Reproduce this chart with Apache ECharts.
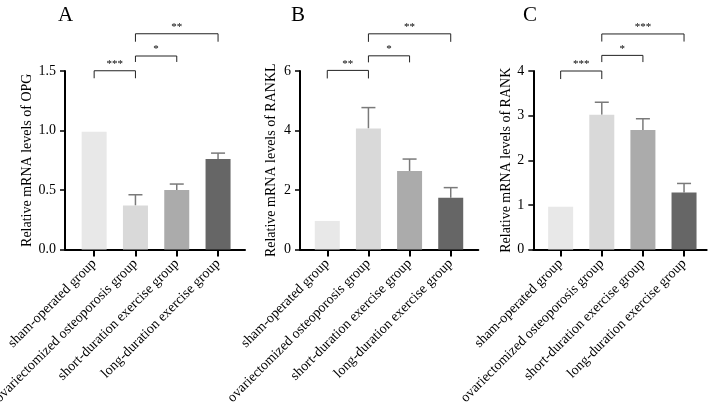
<!DOCTYPE html>
<html>
<head>
<meta charset="utf-8">
<script src="https://cdn.jsdelivr.net/npm/echarts@6/dist/echarts.min.js"></script>
<style>html,body{margin:0;padding:0;background:#fff}#c{width:713px;height:402px}</style>
</head>
<body>
<div id="c"></div>
<script>
var categories = ['sham-operated group', 'ovariectomized osteoporosis group', 'short-duration exercise group', 'long-duration exercise group'];
var barColors = ['#e8e8e8', '#d9d9d9', '#ababab', '#666666'];

var opgMean = [0.99, 0.37, 0.50, 0.76];
var opgErrTop = [null, 0.46, 0.55, 0.81];
var opgTicks = { min: 0, max: 1.5, interval: 0.5 };
var opgSig = [[0, 1, 1.502, 1.439, '***'], [1, 2, 1.626, 1.576, '*'], [1, 3, 1.813, 1.746, '**']];

var ranklMean = [0.96, 4.07, 2.64, 1.74];
var ranklErrTop = [null, 4.77, 3.04, 2.08];
var ranklTicks = { min: 0, max: 6, interval: 2 };
var ranklSig = [[0, 1, 6.02, 5.75, '**'], [1, 2, 6.51, 6.29, '*'], [1, 3, 7.25, 6.98, '**']];

var rankMean = [0.96, 3.02, 2.68, 1.28];
var rankErrTop = [null, 3.30, 2.93, 1.48];
var rankTicks = { min: 0, max: 4, interval: 1 };
var rankSig = [[0, 1, 4.0, 3.82, '***'], [1, 2, 4.35, 4.2, '*'], [1, 3, 4.83, 4.66, '***']];

var panelLetters = ['A', 'B', 'C'];
var yNames = ['Relative mRNA levels of OPG', 'Relative mRNA levels of RANKL', 'Relative mRNA levels of RANK'];

var FONT = '"Times New Roman", "Liberation Serif", serif';
var chart = echarts.init(document.getElementById('c'), null, { renderer: 'canvas' });

var panels = [
  { mean: opgMean, err: opgErrTop, ticks: opgTicks, sig: opgSig, dec: 1, outer: [65, 180], inner: [73.5, 165.2], nameGap: 31, letterX: 53 },
  { mean: ranklMean, err: ranklErrTop, ticks: ranklTicks, sig: ranklSig, dec: 0, outer: [300, 178.3], inner: [306.7, 164.6], nameGap: 22, letterX: 286 },
  { mean: rankMean, err: rankErrTop, ticks: rankTicks, sig: rankSig, dec: 0, outer: [533.3, 173.4], inner: [540.1, 164.5], nameGap: 20, letterX: 518 }
];

var grids = [], xAxes = [], yAxes = [], series = [], titles = [];
var TOP = 71, HEIGHT = 178.5;

panels.forEach(function (p, i) {
  var og = grids.length;
  grids.push({ left: p.outer[0], top: TOP, width: p.outer[1], height: HEIGHT, containLabel: false, outerBoundsMode: 'none' });
  grids.push({ left: p.inner[0], top: TOP, width: p.inner[1], height: HEIGHT, containLabel: false, outerBoundsMode: 'none' });
  xAxes.push({ type: 'category', gridIndex: og, data: categories, axisLine: { show: true, lineStyle: { color: '#000', width: 2 } }, axisTick: { show: false }, axisLabel: { show: false }, splitLine: { show: false } });
  yAxes.push({
    type: 'value', gridIndex: og, min: p.ticks.min, max: p.ticks.max, interval: p.ticks.interval,
    name: yNames[i], nameLocation: 'middle', nameGap: p.nameGap,
    nameTextStyle: { fontFamily: FONT, fontSize: 14, color: '#000' },
    axisLine: { show: true, lineStyle: { color: '#000', width: 2 } },
    axisTick: { show: true, length: 5, lineStyle: { color: '#000', width: 1.5 } },
    axisLabel: { margin: 9, fontFamily: FONT, fontSize: 14, color: '#000', formatter: (function (d) { return function (v) { return v.toFixed(d); }; })(p.dec) },
    splitLine: { show: false }
  });
  xAxes.push({
    type: 'category', gridIndex: og + 1, data: categories,
    axisLine: { show: false },
    axisTick: { show: true, alignWithLabel: true, length: 7, lineStyle: { color: '#000', width: 2 } },
    axisLabel: { rotate: 45, margin: 12, interval: 0, fontFamily: FONT, fontSize: 14, color: '#000' }
  });
  yAxes.push({ type: 'value', gridIndex: og + 1, min: p.ticks.min, max: p.ticks.max, interval: p.ticks.interval, show: false });
  var xi = xAxes.length - 1, yi = yAxes.length - 1;
  series.push({
    type: 'bar', xAxisIndex: xi, yAxisIndex: yi, barWidth: 25, silent: true,
    data: p.mean.map(function (v, k) { return { value: v, itemStyle: { color: barColors[k] } }; })
  });
  series.push({
    type: 'custom', xAxisIndex: xi, yAxisIndex: yi, silent: true, clip: false,
    data: p.err.map(function (t, k) { return t == null ? null : [k, p.mean[k], t]; }).filter(function (d) { return d; }),
    renderItem: function (params, api) {
      var a = api.coord([api.value(0), api.value(1)]);
      var b = api.coord([api.value(0), api.value(2)]);
      var st = { stroke: '#7a7a7a', lineWidth: 1.5 };
      return { type: 'group', children: [
        { type: 'line', shape: { x1: a[0], y1: a[1], x2: b[0], y2: b[1] }, style: st },
        { type: 'line', shape: { x1: b[0] - 7, y1: b[1], x2: b[0] + 7, y2: b[1] }, style: st }
      ] };
    }
  });
  series.push({
    type: 'custom', xAxisIndex: xi, yAxisIndex: yi, silent: true, clip: false,
    data: p.sig,
    renderItem: function (params, api) {
      var x1 = api.value(0), x2 = api.value(1), y = api.value(2), yl = api.value(3);
      var lab = p.sig[params.dataIndex][4];
      var p1 = api.coord([x1, yl]), p2 = api.coord([x1, y]), p3 = api.coord([x2, y]), p4 = api.coord([x2, yl]);
      return { type: 'group', children: [
        { type: 'polyline', shape: { points: [p1, p2, p3, p4] }, style: { stroke: '#222', lineWidth: 1, fill: null } },
        { type: 'text', style: { text: lab, x: (p2[0] + p3[0]) / 2, y: p2[1] - 1, align: 'center', verticalAlign: 'bottom', font: '11px ' + FONT, fill: '#000' } }
      ] };
    }
  });
  titles.push({ text: panelLetters[i], left: p.letterX, top: 0, textStyle: { fontFamily: FONT, fontSize: 21, fontWeight: 'normal', color: '#000' } });
});

chart.setOption({
  animation: false,
  backgroundColor: '#fff',
  title: titles,
  grid: grids,
  xAxis: xAxes,
  yAxis: yAxes,
  series: series
});
</script>
</body>
</html>
